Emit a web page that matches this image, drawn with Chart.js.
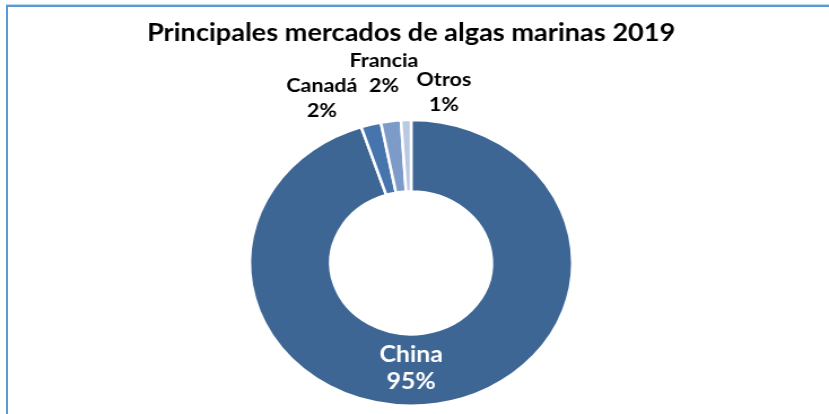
<!DOCTYPE html>
<html>
<head>
<meta charset="utf-8">
<script src="https://cdn.jsdelivr.net/npm/chart.js@4/dist/chart.umd.min.js"></script>
<style>
  html, body { margin: 0; padding: 0; background: #fff; overflow: hidden; }
  #frame {
    position: absolute; left: 6px; top: 5px; width: 900px; height: 500px;
    border: 2px solid #5B9BD5; box-shadow: 0 -1px 0 #BDD7EE;
  }
  /* the original picture is stretched sideways, so the whole chart is too */
  #wrap {
    position: absolute; left: 0; top: 0; width: 734px; height: 414px;
    transform: scaleX(1.1294); transform-origin: 0 0;
  }
</style>
</head>
<body>
<div id="frame"></div>
<div id="wrap"><canvas id="algasChart"></canvas></div>
<script>
const categories = ['China', 'Canadá', 'Francia', 'Otros'];
const shares = [95, 2, 2, 1];
const sliceColors = ['#3D6695', '#4674AC', '#7D9BC8', '#B9C9E2'];

// where each label sits, relative to the centre of the ring
const labelSpots = [
  { dx: 0, dy: 106, color: '#ffffff', size: 22, gap: 27 },
  { dx: -79, dy: -165, color: '#000000', size: 19, gap: 25 },
  { dx: -24, dy: -190, color: '#000000', size: 19, gap: 25 },
  { dx: 29, dy: -171, color: '#000000', size: 19, gap: 25 }
];

const sliceLabels = {
  id: 'sliceLabels',
  afterDatasetsDraw(chart) {
    const ctx = chart.ctx;
    const arcs = chart.getDatasetMeta(0).data;
    const total = shares.reduce((a, b) => a + b, 0);
    ctx.save();
    ctx.textAlign = 'center';
    ctx.textBaseline = 'middle';
    arcs.forEach((arc, i) => {
      const spot = labelSpots[i];
      const x = arc.x + spot.dx;
      const y = arc.y + spot.dy;
      ctx.fillStyle = spot.color;
      ctx.font = 'bold ' + spot.size + 'px Lato';
      ctx.fillText(chart.data.labels[i], x, y - spot.gap / 2);
      ctx.fillText(Math.round(shares[i] / total * 100) + '%', x, y + spot.gap / 2);
    });
    ctx.restore();
  }
};

new Chart(document.getElementById('algasChart'), {
  type: 'doughnut',
  data: {
    labels: categories,
    datasets: [{
      data: shares,
      backgroundColor: sliceColors,
      borderColor: '#ffffff',
      borderWidth: 2.5
    }]
  },
  options: {
    responsive: true,
    maintainAspectRatio: false,
    animation: false,
    cutout: '50%',
    layout: { padding: { left: 0, right: 6, top: 0, bottom: 7 } },
    plugins: {
      legend: { display: false },
      tooltip: { enabled: false },
      title: {
        display: true,
        text: 'Principales mercados de algas marinas 2019',
        color: '#000000',
        font: { family: 'Lato', size: 24, weight: 'bold' },
        padding: { top: 19, bottom: 71 }
      }
    }
  },
  plugins: [sliceLabels]
});
</script>
</body>
</html>
